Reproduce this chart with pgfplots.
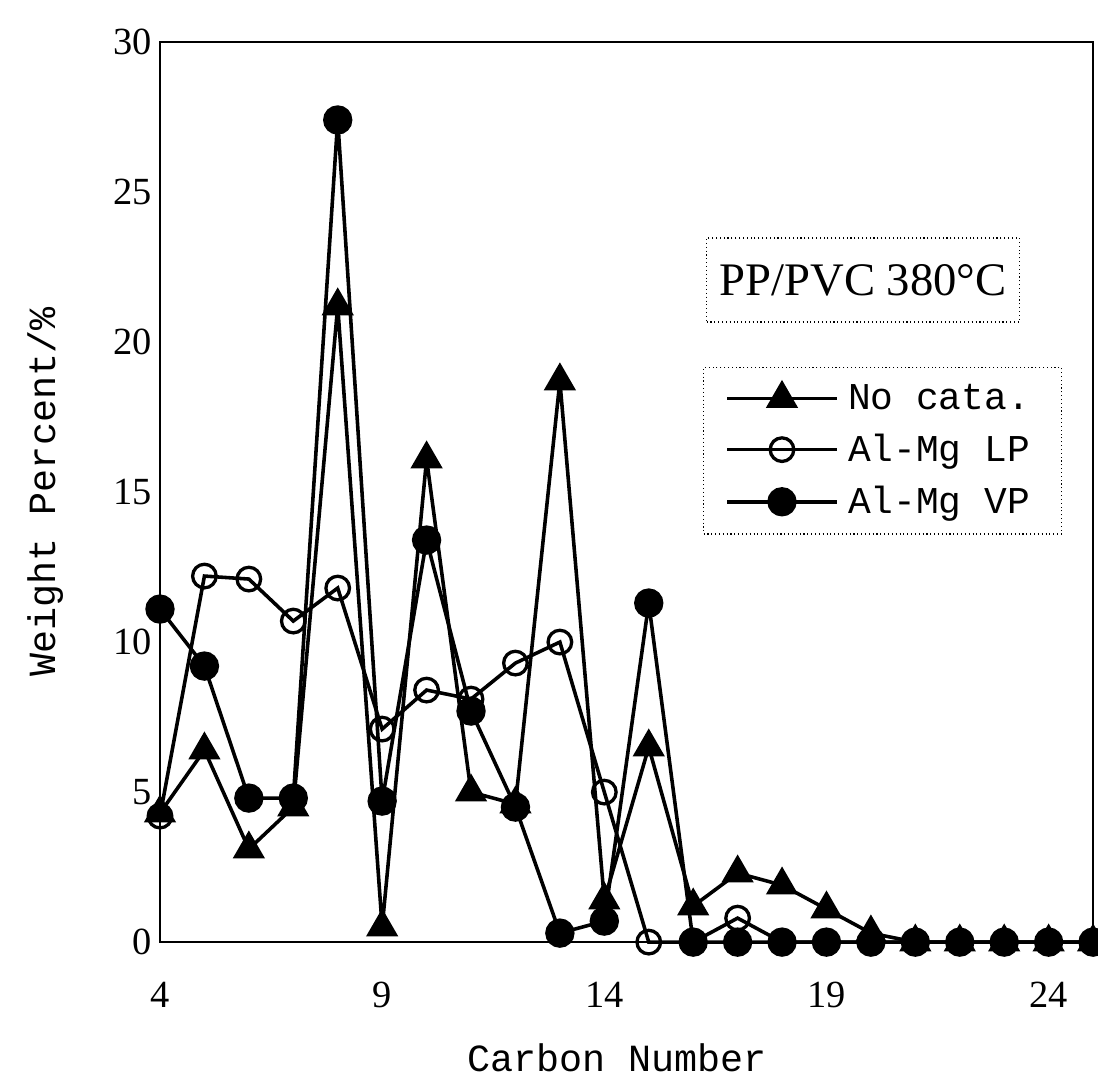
\documentclass[border=0pt]{standalone}
\usepackage{fontspec}
\setmainfont{Liberation Serif}
\newfontfamily\monofont{Liberation Mono}
\usepackage{pgfplots}
\usepackage{pgfplotstable}
\pgfplotsset{compat=1.18}

\pgfplotstableread{
x  nocat lp   vp
4  4.3   4.2  11.1
5  6.4   12.2 9.2
6  3.1   12.1 4.8
7  4.5   10.7 4.8
8  21.2  11.8 27.4
9  0.5   7.1  4.7
10 16.1  8.4  13.4
11 5.0   8.1  7.7
12 4.6   9.3  4.5
13 18.7  10.0 0.3
14 1.4   5.0  0.7
15 6.5   0.0  11.3
16 1.2   0.0  0.0
17 2.3   0.8  0.0
18 1.9   0.0  0.0
19 1.1   0.0  0.0
20 0.3   0.0  0.0
21 0.0   0.0  0.0
22 0.0   0.0  0.0
23 0.0   0.0  0.0
24 0.0   0.0  0.0
25 0.0   0.0  0.0
}\datatable

\begin{document}
\begin{tikzpicture}
\begin{axis}[
  scale only axis,
  width=340pt, height=328pt,
  xmin=4, xmax=25, ymin=0, ymax=30,
  xtick={4,9,14,19,24},
  ytick={0,5,10,15,20,25,30},
  xtick pos=bottom, ytick pos=left,
  major tick length=0pt,
  axis line style={line width=0.5pt},
  tick label style={font=\fontsize{14}{16}\selectfont},
  /pgf/number format/assume math mode=true,
  yticklabel style={xshift=0.5pt},
  xticklabel style={yshift=-11pt},
  xlabel={Carbon Number},
  ylabel={Weight Percent/\%},
  label style={font=\monofont\fontsize{14}{16}\selectfont},
  xlabel style={at={(axis description cs:0.49,-0.128)}, anchor=center},
  ylabel style={at={(axis description cs:-0.123,0.5)}, anchor=center},
  clip=false,
  legend style={
    at={(rel axis cs:0.582,0.639)}, anchor=north west,
    draw=black, densely dotted, line width=0.4pt,
    font=\monofont\fontsize{13.8}{16}\selectfont,
    inner xsep=8pt, inner ysep=4pt, row sep=3.5pt,
    nodes={inner xsep=3.5pt, solid},
  },
  legend cell align=left,
  legend image code/.code={
    \draw[mark repeat=2, mark phase=2, solid, #1]
      plot coordinates {(0cm,0cm) (0.7cm,0cm) (1.4cm,0cm)};
  },
]
\addlegendimage{black, line width=1.3pt, mark=triangle*, mark size=5.5pt, mark options={solid, fill=black}}
\addlegendentry{No cata.}
\addlegendimage{black, line width=1.3pt, mark=o, mark size=4.3pt, mark options={solid, fill=white, line width=1.2pt}}
\addlegendentry{Al-Mg LP}
\addlegendimage{black, line width=1.3pt, mark=*, mark size=4.7pt, mark options={solid, fill=black}}
\addlegendentry{Al-Mg VP}

\addplot[forget plot, black, line width=1.3pt, mark=o, mark size=4.3pt, mark options={fill=white, line width=1.2pt}] table[x=x, y=lp] {\datatable};
\addplot[forget plot, black, line width=1.3pt, mark=triangle*, mark size=5.5pt, mark options={fill=black}] table[x=x, y=nocat] {\datatable};
\addplot[forget plot, black, line width=1.3pt, mark=*, mark size=4.7pt, mark options={fill=black}] table[x=x, y=vp] {\datatable};

\node[draw=black, densely dotted, line width=0.4pt, minimum width=114pt, minimum height=30.6pt,
      font=\fontsize{17}{19}\selectfont, text=black]
  at (rel axis cs:0.7535,0.7356) {PP/PVC 380°C};
\end{axis}
\pgfresetboundingbox
\path ([shift={(-58.3pt,-53.9pt)}]current axis.south west) rectangle ([shift={(1.8pt,15.3pt)}]current axis.north east);
\end{tikzpicture}
\end{document}
